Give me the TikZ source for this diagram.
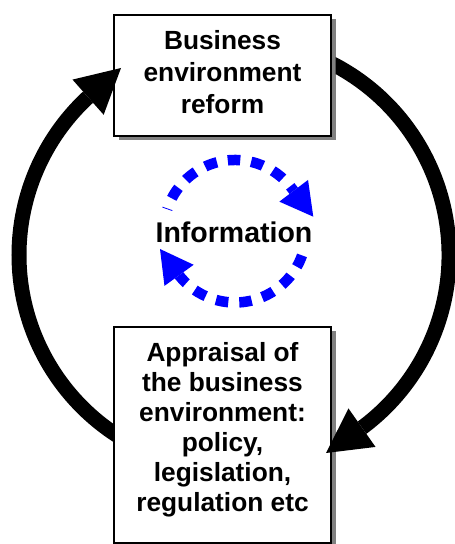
\documentclass[tikz,border=0pt]{standalone}
\usepackage{fontspec}
\setmainfont{Liberation Sans}
\usetikzlibrary{arrows.meta,calc,shadows}
\definecolor{shadowgray}{RGB}{128,128,128}
\begin{document}
\begin{tikzpicture}[x=1pt,y=1pt,
  box/.style={draw=black, line width=1.5pt, fill=white, inner sep=0pt,
    drop shadow={shadow xshift=4.5pt, shadow yshift=-4.5pt, fill=shadowgray, opacity=1}},
  boxtext/.style={align=center, inner sep=0pt, font=\bfseries\fontsize{26.3}{31.7}\selectfont},
  bigarc/.style={line width=15pt, -{Triangle[length=44pt 0 0, width=47pt 0 0, line width=0pt]}},
  infoarc/.style={blue, line width=10.5pt, dash pattern=on 12.5pt off 11pt,
    -{Triangle[length=32.5pt 0 0, width=36pt 0 0, line width=0pt]}}
]
\useasboundingbox (0,0) rectangle (455,544);
\fill[white] (0,0) rectangle (455,544);

% boxes
\node[box, minimum width=217pt, minimum height=121pt] (reform) at (222.5,468.5) {};
\node[box, minimum width=217pt, minimum height=216pt] (appraisal) at (222.5,109) {};

\node[boxtext] (reformtext) at (222.5,471.8) {Business\\environment\\reform};
\node[boxtext, font=\bfseries\fontsize{26.3}{30}\selectfont] (appraisaltext) at (222.5,114)
  {Appraisal of\\the business\\environment:\\policy,\\legislation,\\regulation etc};

% big cycle
\coordinate (bigc) at (234,289);
\coordinate (tipL) at (121,476);
\coordinate (tipR) at (326,91);

\begin{scope}
  \clip (0,0) -- (455,0) -- (455,544) -- (335.5,544) -- (335.5,403.5) -- (0,403.5) -- cycle;
  \draw[bigarc] ($(bigc)+(66:215)$) arc[start angle=66, end angle=-53.3, radius=215] -- (tipR);
\end{scope}
\begin{scope}
  \clip (0,0) -- (113.25,0) -- (113.25,217) -- (455,217) -- (455,544) -- (0,544) -- cycle;
  \draw[bigarc] ($(bigc)+(240:215)$) arc[start angle=240, end angle=133.3, radius=215] -- (tipL);
\end{scope}

% information cycle
\coordinate (infc) at (235,312.75);
\coordinate (tipU) at (313.3,327.3);
\coordinate (tipD) at (160,295);
\draw[infoarc, dash phase=11.7pt] ($(infc)+(162:71.25)$) arc[start angle=162, end angle=35.5, radius=71.25] -- (tipU);
\draw[infoarc, dash phase=22.5pt] ($(infc)+(-19:71.25)$) arc[start angle=-19, end angle=-141.5, radius=71.25] -- (tipD);

\node[font=\bfseries\fontsize{28.5}{30}\selectfont, anchor=base, inner sep=0pt] (info) at (234,301.3) {Information};
\end{tikzpicture}
\end{document}
